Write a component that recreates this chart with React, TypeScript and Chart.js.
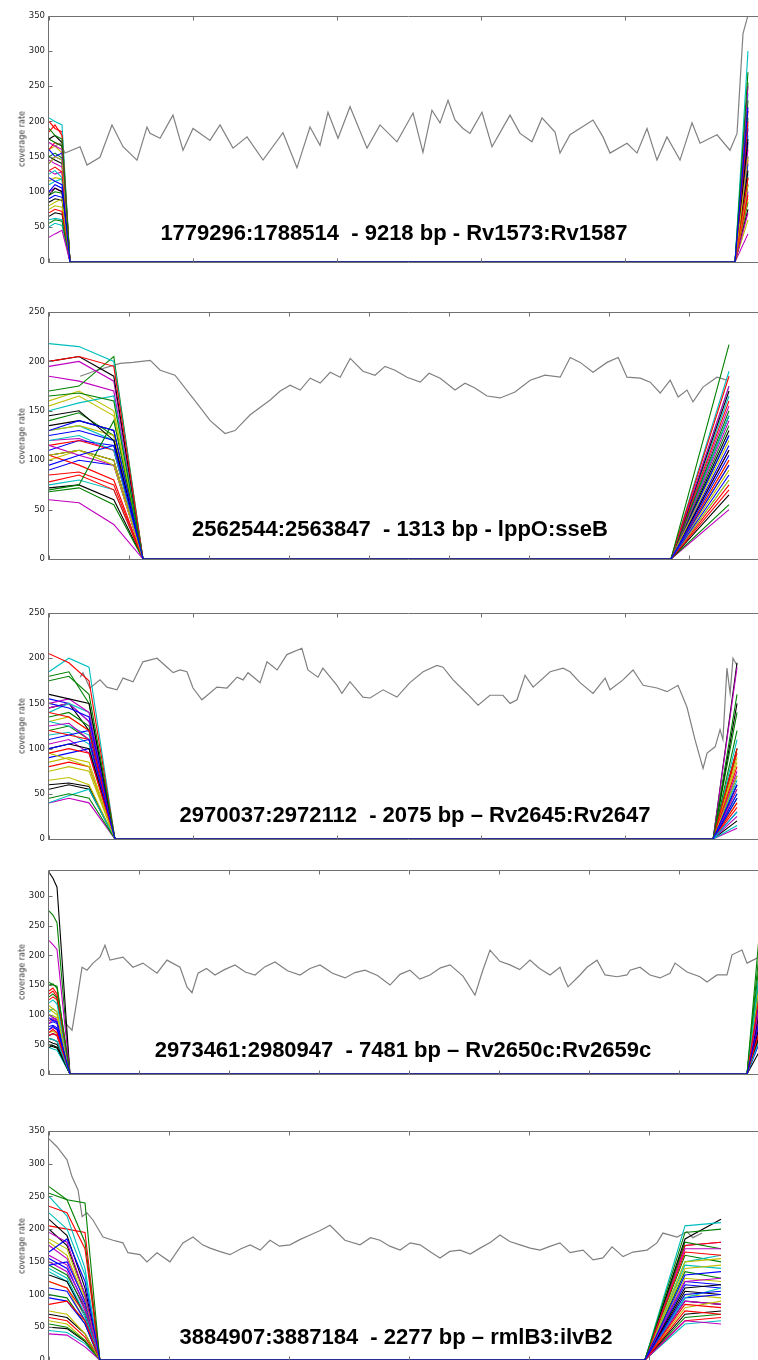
import React, { useEffect, useRef } from "react";
import { Chart, registerables } from "chart.js";

Chart.register(...registerables);

// matplotlib classic colour cycle: b, g, r, c, m, y, k
const SAMPLE_COLORS = ["#0000ff", "#008000", "#ff0000", "#00bfbf", "#bf00bf", "#bfbf00", "#000000"];
const GRAY_COLOR = "#808080";

const Y_LABEL = "coverage rate";

// ---------------- Panel 1 ----------------
const P1_TITLE = "1779296:1788514  - 9218 bp - Rv1573:Rv1587";
const P1_GRAY_X = [83,153,222,431,528,708,875,1028,1222,1361,1403,1542,1722,1861,2000,2236,2375,2556,2750,2972,3250,3444,3625,3764,3875,4014,4181,4417,4597,4833,5056,5194,5319,5431,5542,5639,5750,5847,6014,6153,6403,6542,6708,6847,7028,7097,7236,7556,7694,7792,8028,8167,8306,8444,8583,8764,8931,9042,9278,9458,9556,9639,9708];
const P1_GRAY_Y = [165,169,155,164,138,149,195,164,145,192,183,176,209,159,190,173,195,162,178,145,184,134,192,166,213,176,221,162,195,171,212,156,216,198,230,202,190,183,213,164,209,183,171,205,185,155,181,202,178,155,169,155,190,145,178,145,198,169,181,159,183,325,351];
const P1_LEFT_X = [0, 83, 181, 292];
const P1_START = [100,190,185,205,35,80,95, 120,55,70,50,170,140,175, 160,150,130,110,145,75,85, 90,175,160,125,100,115,150, 140,95,200,60,130,160,65];
const P1_MID = [110,180,195,200,40,85,105, 115,60,75,55,165,150,180, 150,155,135,115,140,80,90, 95,170,170,130,105,120,145, 150,100,190,62,125,165,70];
const P1_KNEE = [105,175,180,195,45,90,100, 110,58,72,52,160,145,170, 155,148,128,118,135,78,88, 92,165,165,120,100,118,140, 145,98,185,60,128,155,68];
const P1_RIGHT_X = [9528, 9708];
const P1_END = [220,270,200,300,250,150,175, 190,230,120,240,160,110,130, 140,205,95,180,70,90,75, 170,255,215,125,100,60,110, 150,85,145,195,40,165,120];

// ---------------- Panel 2 ----------------
const P2_TITLE = "2562544:2563847  - 1313 bp - lppO:sseB";
const P2_GRAY_X = [78,120,178,210,253,278,315,373,403,440,465,503,553,578,603,628,653,678,703,728,753,785,815,840,865,895,928,950,978,1015,1040,1065,1095,1128,1165,1203,1240,1278,1303,1328,1360,1395,1423,1445,1478,1503,1528,1553,1573,1595,1610,1635,1670,1695];
const P2_GRAY_Y = [185,191,198,199,201,191,186,156,140,127,130,146,161,170,176,171,183,178,189,184,203,190,186,195,191,184,179,188,183,171,178,173,165,163,169,181,186,184,204,199,189,199,204,184,183,179,168,181,164,171,159,174,184,181];
const P2_LEFT_X = [0, 75, 162, 235];
const P2_START = [95,165,200,218,60,105,200, 130,70,105,150,115,160,145, 125,68,78,120,195,100,72, 90,170,115,75,185,130,135, 110,140,85,130,120,155,105];
const P2_MID = [105,168,205,215,57,110,205, 140,75,95,158,105,170,150, 130,72,85,125,200,110,75, 100,175,120,80,180,135,140, 120,148,88,135,122,165,110];
const P2_KNEE = [115,160,195,200,35,95,185, 130,140,80,165,95,150,120, 120,55,70,110,180,100,60, 95,205,110,70,170,125,130, 115,125,75,120,110,145,100];
const P2_RIGHT_X = [1555, 1700];
const P2_END = [105,217,185,190,175,120,170, 95,150,160,175,140,95,110, 85,135,70,145,110,80,65, 125,55,100,80,50,90,130, 115,125,75,165,155,100,145];

// ---------------- Panel 3 ----------------
const P3_TITLE = "2970037:2972112  - 2075 bp \u2013 Rv2645:Rv2647";
const P3_GRAY_X = [108,118,142,177,201,236,257,292,326,375,410,431,455,479,500,531,583,618,653,674,691,733,757,792,826,878,899,934,951,1000,1017,1045,1090,1115,1160,1208,1253,1299,1347,1368,1403,1451,1490,1531,1576,1601,1625,1653,1681,1740,1785,1809,1844,1889,1931,1948,1993,2028,2063,2111,2146,2184,2215,2243,2271,2285,2313,2330,2340,2354,2365,2375,2389];
const P3_GRAY_Y = [179,184,167,176,168,165,178,174,196,200,190,184,187,185,167,154,168,167,179,176,184,173,196,187,204,211,187,179,189,170,161,174,157,156,165,157,173,185,192,190,176,161,148,159,159,150,154,181,168,185,189,185,173,161,178,165,176,187,170,167,163,170,146,110,78,95,102,121,110,189,161,200,192];
const P3_LEFT_X = [0, 69, 139, 229];
const P3_START = [100,175,205,185,125,75,160, 150,45,140,40,150,65,55, 110,180,95,140,145,85,100, 155,135,120,130,40,95,145, 90,120,80,115,105,130,60];
const P3_MID = [105,180,195,200,128,80,155, 145,50,135,48,155,68,60, 115,185,100,150,150,90,105, 150,140,115,125,45,88,150, 95,125,85,118,110,135,62];
const P3_KNEE = [110,160,175,190,110,75,150, 135,45,120,55,140,60,55, 120,150,95,140,130,85,100, 130,125,110,115,40,80,120, 100,110,80,105,95,120,58];
const P3_RIGHT_X = [2306, 2389];
const P3_END = [60,160,100,30,190,70,195, 45,120,80,15,55,90,150, 70,100,40,110,12,85,60, 50,140,95,65,75,55,100, 30,45,35,50,25,40,20];

// ---------------- Panel 4 ----------------
const P4_TITLE = "2973461:2980947  - 7481 bp \u2013 Rv2650c:Rv2659c";
const P4_GRAY_X = [178,256,311,367,422,489,567,622,678,822,933,1044,1200,1311,1456,1533,1589,1656,1750,1844,1950,2067,2180,2289,2400,2511,2650,2789,2900,3011,3150,3289,3400,3511,3650,3789,3900,4011,4120,4233,4350,4456,4600,4733,4820,4900,5010,5122,5230,5344,5450,5567,5678,5733,5767,5900,5978,6089,6178,6311,6422,6456,6567,6678,6789,6900,6956,7089,7233,7311,7422,7533,7589,7700,7756,7822,7878,8000];
const P4_GRAY_Y = [86,74,125,180,175,187,197,217,192,197,180,187,170,192,180,147,137,170,178,167,176,184,172,167,181,189,174,167,178,184,170,162,171,175,166,150,168,175,160,167,179,184,165,133,175,209,190,184,176,192,178,167,180,158,147,167,180,192,167,164,167,175,180,167,162,170,187,172,164,155,167,167,201,209,187,192,196,190];
const P4_LEFT_X = [0, 44, 89, 233];
const P4_START = [80,155,140,120,225,110,340, 95,275,70,60,85,100,45, 75,130,65,45,90,115,55, 85,150,135,105,100,70,60, 65,50,125,100,75,90,50];
const P4_MID = [82,150,145,125,218,105,330, 90,268,75,58,92,98,48, 80,135,68,42,95,110,52, 88,152,140,110,95,72,58, 68,48,130,95,78,92,46];
const P4_KNEE = [78,148,135,118,210,100,315, 88,255,70,55,88,95,45, 75,128,65,40,90,105,50, 85,145,130,105,92,68,55, 65,45,125,92,75,88,44];
const P4_RIGHT_X = [7756, 7900];
const P4_END = [95,250,140,180,120,160,110, 130,200,75,150,95,140,85, 115,170,90,60,105,125,70, 100,220,160,135,80,110,65, 55,180,120,145,90,100,40];

// ---------------- Panel 5 ----------------
const P5_TITLE = "3884907:3887184  - 2277 bp \u2013 rmlB3:ilvB2";
const P5_GRAY_X = [0,33,75,96,121,138,158,183,225,267,308,329,379,408,450,504,558,600,640,671,710,754,800,838,880,921,960,1004,1045,1088,1130,1171,1233,1296,1340,1379,1420,1463,1505,1546,1590,1629,1670,1713,1755,1796,1840,1879,1920,1963,2005,2046,2090,2129,2171,2225,2267,2308,2346,2392,2433,2492,2533,2558,2617,2658,2683,2721];
const P5_GRAY_Y = [338,326,306,280,260,219,225,214,188,183,179,164,161,150,164,150,179,188,176,171,166,161,170,176,168,183,174,176,184,191,198,206,183,176,187,183,174,168,179,176,165,156,166,168,162,171,180,191,181,176,171,168,174,179,164,168,153,156,173,158,165,168,179,194,188,196,187,194];
const P5_LEFT_X = [0, 75, 150, 212];
const P5_START = [165,265,235,225,195,185,215, 145,255,85,140,160,75,130, 110,55,120,250,40,180,70, 95,145,205,135,150,60,50, 155,100,65,45,175,120,200];
const P5_MID = [185,245,225,200,180,170,190, 150,245,90,125,145,70,120, 105,50,110,220,38,160,65, 90,130,200,120,135,55,48, 140,95,60,42,155,110,175];
const P5_KNEE = [120,240,170,130,100,95,110, 90,180,60,70,80,40,70, 60,30,70,140,20,90,40, 55,80,195,65,75,30,28, 85,55,35,25,90,60,100];
const P5_RIGHT_X = [2483, 2650, 2800];
const P5_RMID = [130,195,165,205,170,150,185, 100,180,85,150,120,140,110, 120,160,75,95,60,80,70, 95,135,175,145,90,125,105, 115,65,60,55,175,100,90];
const P5_END = [135,200,160,210,170,155,215, 105,170,80,160,125,145,115, 115,150,70,110,55,90,75, 100,125,180,140,85,120,100, 110,70,65,60,180,95,85];

type PanelCfg = {
  top: number; height: number; yMax: number; xMax: number; xStep: number;
  leftX: number[]; left: number[][]; rightX: number[]; right: number[][];
  grayX: number[]; grayY: number[];
  title: string; titleX: number; titleY: number;
};

const PANELS: PanelCfg[] = [
  { top: 6, height: 266, yMax: 350, xMax: 10000, xStep: 2000, leftX: P1_LEFT_X, left: [P1_START, P1_MID, P1_KNEE], rightX: P1_RIGHT_X, right: [P1_END], grayX: P1_GRAY_X, grayY: P1_GRAY_Y, title: P1_TITLE, titleX: 394, titleY: 233 },
  { top: 302, height: 267, yMax: 250, xMax: 1800, xStep: 200, leftX: P2_LEFT_X, left: [P2_START, P2_MID, P2_KNEE], rightX: P2_RIGHT_X, right: [P2_END], grayX: P2_GRAY_X, grayY: P2_GRAY_Y, title: P2_TITLE, titleX: 400, titleY: 529 },
  { top: 603, height: 246, yMax: 250, xMax: 2500, xStep: 500, leftX: P3_LEFT_X, left: [P3_START, P3_MID, P3_KNEE], rightX: P3_RIGHT_X, right: [P3_END], grayX: P3_GRAY_X, grayY: P3_GRAY_Y, title: P3_TITLE, titleX: 415, titleY: 815 },
  { top: 860, height: 224, yMax: 344, xMax: 8000, xStep: 1000, leftX: P4_LEFT_X, left: [P4_START, P4_MID, P4_KNEE], rightX: P4_RIGHT_X, right: [P4_END], grayX: P4_GRAY_X, grayY: P4_GRAY_Y, title: P4_TITLE, titleX: 403, titleY: 1050 },
  { top: 1121, height: 249, yMax: 350, xMax: 3000, xStep: 500, leftX: P5_LEFT_X, left: [P5_START, P5_MID, P5_KNEE], rightX: P5_RIGHT_X, right: [P5_RMID, P5_END], grayX: P5_GRAY_X, grayY: P5_GRAY_Y, title: P5_TITLE, titleX: 396, titleY: 1337 },
];

function buildDatasets(cfg: PanelCfg) {
  const n = cfg.left[0].length;
  const sets: any[] = [];
  for (let i = 0; i < n; i++) {
    const pts: { x: number; y: number }[] = [];
    cfg.leftX.forEach((x, j) => pts.push({ x, y: j < cfg.left.length ? cfg.left[j][i] : 0 }));
    pts.push({ x: cfg.rightX[0], y: 0 });
    for (let k = 0; k < cfg.right.length; k++) pts.push({ x: cfg.rightX[k + 1], y: cfg.right[k][i] });
    sets.push({
      data: pts,
      borderColor: SAMPLE_COLORS[i % SAMPLE_COLORS.length],
      borderWidth: 1.1,
      pointRadius: 0,
      fill: false,
      tension: 0,
      order: 0,
    });
  }
  sets.push({
    data: cfg.grayX.map((x, i) => ({ x, y: cfg.grayY[i] })),
    borderColor: GRAY_COLOR,
    borderWidth: 1.2,
    pointRadius: 0,
    fill: false,
    tension: 0,
    order: 1,
  });
  return sets;
}

const framePlugin = {
  id: "frame",
  afterDatasetsDraw(chart: any) {
    const { ctx, chartArea: a, scales } = chart;
    ctx.save();
    ctx.strokeStyle = "#707070";
    ctx.lineWidth = 1;
    const l = Math.round(a.left) - 0.5;
    const r = Math.round(a.right) - 0.5;
    const t = Math.round(a.top) + 0.5;
    const b = Math.round(a.bottom) + 0.5;
    ctx.beginPath();
    ctx.moveTo(l, b); ctx.lineTo(l, t); ctx.lineTo(r, t); ctx.lineTo(r, b); ctx.lineTo(l, b);
    const xs = scales.x;
    xs.ticks.forEach((tk: any) => {
      const px = Math.round(xs.getPixelForValue(tk.value)) + 0.5;
      ctx.moveTo(px, t); ctx.lineTo(px, t + 4);
      ctx.moveTo(px, b); ctx.lineTo(px, b - 4);
    });
    const ys = scales.y;
    ys.ticks.forEach((tk: any) => {
      if (tk.value % 50 !== 0) return;
      const py = Math.round(ys.getPixelForValue(tk.value)) + 0.5;
      ctx.moveTo(l, py); ctx.lineTo(l + 4, py);
    });
    ctx.stroke();
    ctx.restore();
  },
};

function Panel({ cfg }: { cfg: PanelCfg }) {
  const ref = useRef<HTMLCanvasElement>(null);
  useEffect(() => {
    if (!ref.current) return;
    const chart = new Chart(ref.current, {
      type: "line",
      data: { datasets: buildDatasets(cfg) },
      options: {
        animation: false,
        responsive: false,
        events: [],
        layout: { padding: { left: 0, right: 11, top: 10, bottom: 10 } },
        plugins: { legend: { display: false }, tooltip: { enabled: false }, title: { display: false } },
        scales: {
          x: {
            type: "linear",
            min: 0,
            max: cfg.xMax,
            ticks: { display: false, stepSize: cfg.xStep },
            grid: { display: false, drawTicks: false },
            border: { display: false },
          },
          y: {
            type: "linear",
            min: 0,
            max: cfg.yMax,
            ticks: {
              stepSize: 50,
              padding: 4,
              color: "#222222",
              font: { family: "'DejaVu Sans', sans-serif", size: 8.5 },
              callback: (v: any) => (Number(v) % 50 === 0 ? String(v) : ""),
            },
            grid: { display: false, drawTicks: false },
            border: { display: false },
            afterFit: (s: any) => { s.width = 49; },
          },
        },
      } as any,
      plugins: [framePlugin],
    });
    return () => chart.destroy();
  }, [cfg]);
  return (
    <canvas
      ref={ref}
      width={780}
      height={cfg.height}
      style={{ position: "absolute", left: 0, top: cfg.top, display: "block" }}
    />
  );
}

export default function App() {
  return (
    <div style={{ position: "absolute", left: 0, top: 0, width: 758, height: 1360, overflow: "hidden", background: "#ffffff" }}>
      {PANELS.map((cfg, i) => (
        <React.Fragment key={i}>
          <Panel cfg={cfg} />
          <div
            style={{
              position: "absolute",
              left: cfg.titleX - 350,
              width: 700,
              top: cfg.titleY - 10.7,
              textAlign: "center",
              whiteSpace: "pre",
              fontFamily: "'Liberation Sans', Arial, sans-serif",
              fontWeight: "bold",
              fontSize: 22,
              lineHeight: "22px",
              color: "#000",
            }}
          >
            {cfg.title}
          </div>
          <div
            style={{
              position: "absolute",
              left: 22,
              top: cfg.top + cfg.height / 2,
              transform: "translate(-50%, -50%) rotate(-90deg)",
              whiteSpace: "nowrap",
              fontFamily: "'DejaVu Sans', sans-serif",
              fontSize: 8,
              color: "#333333",
            }}
          >
            {Y_LABEL}
          </div>
        </React.Fragment>
      ))}
    </div>
  );
}
